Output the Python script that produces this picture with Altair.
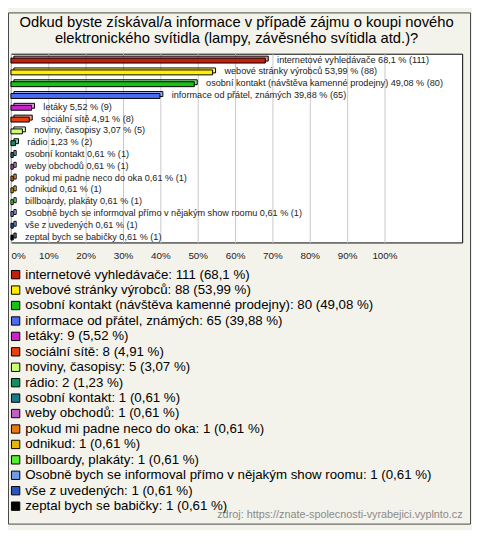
import altair as alt
import pandas as pd

categories = [
    "internetové vyhledávače",
    "webové stránky výrobců",
    "osobní kontakt (návštěva kamenné prodejny)",
    "informace od přátel, známých",
    "letáky",
    "sociální sítě",
    "noviny, časopisy",
    "rádio",
    "osobní kontakt",
    "weby obchodů",
    "pokud mi padne neco do oka",
    "odnikud",
    "billboardy, plakáty",
    "Osobně bych se informoval přímo v nějakým show roomu",
    "vše z uvedených",
    "zeptal bych se babičky",
]
counts = [111, 88, 80, 65, 9, 8, 5, 2, 1, 1, 1, 1, 1, 1, 1, 1]
percents = [68.1, 53.99, 49.08, 39.88, 5.52, 4.91, 3.07, 1.23,
            0.61, 0.61, 0.61, 0.61, 0.61, 0.61, 0.61, 0.61]
colors = ["#c41e0c", "#ffee00", "#18c018", "#4a6cf0", "#cc22cc", "#e84010",
          "#ccff77", "#109060", "#1a7a8a", "#c060c0", "#e87810", "#e8b800",
          "#55ee33", "#6f9be8", "#2a55c0", "#000000"]
tick_values = [0, 10, 20, 30, 40, 50, 60, 70, 80, 90, 100]

title_lines = [
    "Odkud byste získával/a informace v případě zájmu o koupi nového",
    "elektronického svítidla (lampy, závěsného svítidla atd.)?",
]
footer = "zdroj: https://znate-spolecnosti-vyrabejici.vyplnto.cz"


def fmt(p):
    return str(p).replace(".", ",")


bar_labels = [f"{c} {fmt(p)} % ({n})" for c, p, n in zip(categories, percents, counts)]
legend_labels = [f"{c}: {n} ({fmt(p)} %)" for c, p, n in zip(categories, percents, counts)]

df = pd.DataFrame({
    "label": bar_labels,
    "legend": legend_labels,
    "pct": percents,
})

FONT = "Liberation Sans"
W, H = 459, 192

x_enc = alt.X(
    "pct:Q",
    scale=alt.Scale(domain=[0, 120.8], nice=False, zero=True),
    axis=alt.Axis(
        values=tick_values,
        labelExpr="datum.value + '%'",
        grid=True,
        gridColor="#c8c8c8",
        ticks=False,
        tickSize=0,
        domain=False,
        labelFontSize=10,
        labelColor="#222222",
        labelFont=FONT,
        labelPadding=8,
        labelFlush=True,
        title=footer,
        titleFont=FONT,
        titleFontSize=11,
        titleFontWeight="normal",
        titleColor="#8a8a8a",
        titleAlign="right",
        titleBaseline="middle",
        titleX=W,
        titleY=277,
    ),
)
y_enc = alt.Y("label:N", sort=bar_labels, axis=None,
              scale=alt.Scale(paddingInner=0, paddingOuter=0))
color_enc = alt.Color(
    "legend:N",
    scale=alt.Scale(domain=legend_labels, range=colors),
    legend=alt.Legend(
        orient="none",
        legendX=-2,
        legendY=218,
        title=None,
        direction="vertical",
        symbolType="square",
        symbolSize=72,
        symbolStrokeColor="black",
        symbolStrokeWidth=1,
        symbolOpacity=1,
        labelFontSize=13.5,
        labelFont=FONT,
        labelColor="black",
        labelLimit=600,
        labelOffset=3,
        rowPadding=0.7,
        symbolLimit=50,
        padding=0,
    ),
)

base = alt.Chart(df)

back = base.mark_bar(size=5, xOffset=3, yOffset=-1, stroke="black",
                     strokeWidth=1, fillOpacity=0.5).encode(
    x=x_enc, y=y_enc, color=color_enc)
front = base.mark_bar(size=5, yOffset=1, stroke="black", strokeWidth=1).encode(
    x=x_enc, y=y_enc, color=color_enc)
text = base.mark_text(align="left", baseline="middle", dx=12, fontSize=9.3,
                      font=FONT, color="#222222").encode(
    x=alt.X("pct:Q"), y=y_enc, text="label:N")

frame = alt.Chart(pd.DataFrame({"a": [0]})).mark_rect(
    fill="white", fillOpacity=0, stroke="#444444", strokeWidth=1).encode(
    x=alt.value(-2.5), x2=alt.value(467.5),
    y=alt.value(-41.5), y2=alt.value(478.5))

chart = alt.layer(frame, back, front, text).properties(
    width=W,
    height=H,
    title=alt.TitleParams(
        text=title_lines,
        fontSize=15,
        fontWeight="normal",
        font=FONT,
        color="black",
        anchor="middle",
        frame="group",
        lineHeight=16,
        offset=-34,
    ),
    autosize=alt.AutoSizeParams(type="none"),
    padding={"left": 3, "top": 42, "right": 10, "bottom": 288},
    background="#f4f3eb",
).configure_view(
    fill="white", stroke="black", strokeWidth=1
)

chart.save("out.html", embed_options={"renderer": "svg", "actions": False})
